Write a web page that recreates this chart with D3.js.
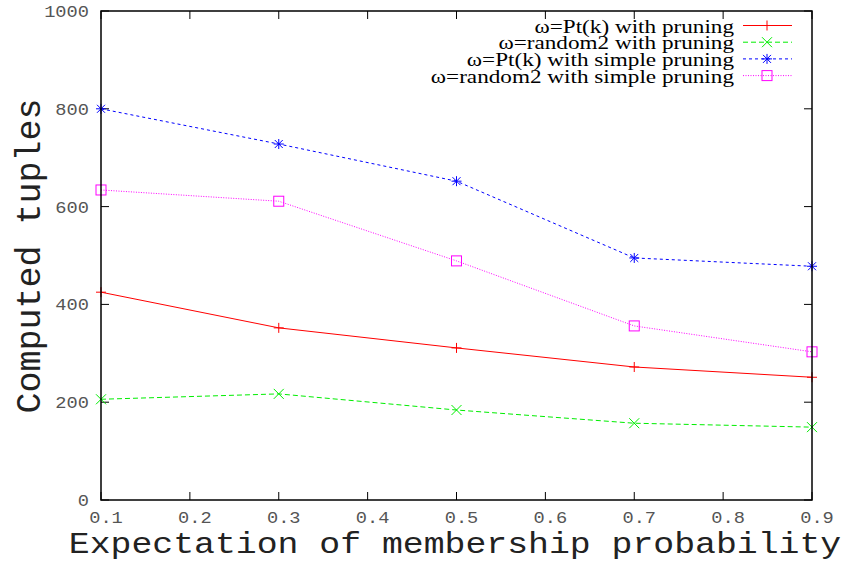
<!DOCTYPE html>
<html>
<head>
  <meta charset="utf-8">
  <script src="https://d3js.org/d3.v7.min.js"></script>
  <style>
    body { margin: 0; background: #fff; }
    text { font-family: "Liberation Mono", "DejaVu Sans Mono", monospace; }
  </style>
</head>
<body>
<script>
  // data
  var probs = [0.1, 0.3, 0.5, 0.7, 0.9];
  var ptPruning = [425, 352, 311, 272, 251];
  var randPruning = [206, 217, 184, 157, 149];
  var ptSimple = [800, 728, 652, 495, 478];
  var randSimple = [634, 611, 489, 356, 303];
  var xTicks = [0.1, 0.2, 0.3, 0.4, 0.5, 0.6, 0.7, 0.8, 0.9];
  var yTicks = [0, 200, 400, 600, 800, 1000];

  var seriesList = [
    { name: "\u03c9=Pt(k) with pruning", values: ptPruning, color: "#ff0000", dash: null, mark: "plus" },
    { name: "\u03c9=random2 with pruning", values: randPruning, color: "#00ee00", dash: "5,3", mark: "cross" },
    { name: "\u03c9=Pt(k) with simple pruning", values: ptSimple, color: "#0000ff", dash: "3,3", mark: "star" },
    { name: "\u03c9=random2 with simple pruning", values: randSimple, color: "#ff00ff", dash: "1,1.5", mark: "box" }
  ];

  var W = 850, H = 566;
  var pLeft = 101, pRight = 812, pTop = 11, pBottom = 500;

  var svg = d3.select("body").append("svg")
      .attr("width", W).attr("height", H);

  var x = d3.scaleLinear().domain([0.1, 0.9]).range([pLeft, pRight]);
  var y = d3.scaleLinear().domain([0, 1000]).range([pBottom, pTop]);

  // ticks on all four sides, pointing inward
  var tk = 8;
  var g = svg.append("g").attr("stroke", "#000").attr("stroke-width", 1);
  xTicks.forEach(function (v) {
    g.append("line").attr("x1", x(v)).attr("x2", x(v)).attr("y1", pBottom).attr("y2", pBottom - tk);
    g.append("line").attr("x1", x(v)).attr("x2", x(v)).attr("y1", pTop).attr("y2", pTop + tk);
  });
  yTicks.forEach(function (v) {
    g.append("line").attr("x1", pLeft).attr("x2", pLeft + tk).attr("y1", y(v)).attr("y2", y(v));
    g.append("line").attr("x1", pRight).attr("x2", pRight - tk).attr("y1", y(v)).attr("y2", y(v));
  });

  // tick labels (gnuplot courier is a bit wider than Liberation Mono)
  svg.selectAll(".xl").data(xTicks).enter().append("text")
      .attr("transform", function (d) { return "translate(" + (x(d) + 5) + "," + (pBottom + 23) + ") scale(1.1,1)"; })
      .attr("text-anchor", "middle")
      .attr("font-size", 17)
      .attr("fill", "#555")
      .text(function (d) { return d3.format(".1f")(d); });

  svg.selectAll(".yl").data(yTicks).enter().append("text")
      .attr("transform", function (d) { return "translate(89," + (y(d) + 6) + ") scale(1.1,1)"; })
      .attr("text-anchor", "end")
      .attr("font-size", 17)
      .attr("fill", "#555")
      .text(function (d) { return d; });

  // axis titles
  svg.append("text")
      .attr("transform", "translate(455,553) scale(1.2,1)")
      .attr("text-anchor", "middle")
      .attr("font-size", 29)
      .attr("fill", "#222")
      .text("Expectation of membership probability");

  svg.append("text")
      .attr("transform", "translate(40,256) rotate(-90)")
      .attr("text-anchor", "middle")
      .attr("font-size", 35)
      .attr("fill", "#222")
      .text("Computed tuples");

  function drawMark(sel, kind, cx, cy, color) {
    var s = 5;
    var m = sel.append("g").attr("stroke", color).attr("stroke-width", 1).attr("fill", "none");
    if (kind === "plus" || kind === "star") {
      m.append("line").attr("x1", cx - s).attr("x2", cx + s).attr("y1", cy).attr("y2", cy);
      m.append("line").attr("x1", cx).attr("x2", cx).attr("y1", cy - s).attr("y2", cy + s);
    }
    if (kind === "cross" || kind === "star") {
      var c = kind === "star" ? 4 : 5;
      m.append("line").attr("x1", cx - c).attr("x2", cx + c).attr("y1", cy - c).attr("y2", cy + c);
      m.append("line").attr("x1", cx - c).attr("x2", cx + c).attr("y1", cy + c).attr("y2", cy - c);
    }
    if (kind === "box") {
      m.append("rect").attr("x", cx - 5).attr("y", cy - 5).attr("width", 10).attr("height", 10);
    }
  }

  var line = d3.line()
      .x(function (d, i) { return x(probs[i]); })
      .y(function (d) { return y(d); });

  seriesList.forEach(function (s, k) {
    svg.append("path")
        .datum(s.values)
        .attr("d", line)
        .attr("fill", "none")
        .attr("stroke", s.color)
        .attr("stroke-width", 1)
        .attr("stroke-dasharray", s.dash);
    s.values.forEach(function (v, i) {
      drawMark(svg, s.mark, x(probs[i]), y(v), s.color);
    });

    // legend entry
    var ly = 25.5 + k * 16.7;
    svg.append("text")
        .attr("transform", "translate(734," + (ly + 7) + ") scale(1.22,1)")
        .attr("text-anchor", "end")
        .style("font-family", "'Liberation Serif', 'DejaVu Serif', serif")
        .attr("font-size", 19)
        .attr("fill", "#000")
        .text(s.name);
    svg.append("line")
        .attr("x1", 743).attr("x2", 792).attr("y1", ly).attr("y2", ly)
        .attr("stroke", s.color).attr("stroke-width", 1)
        .attr("stroke-dasharray", s.dash);
    drawMark(svg, s.mark, 767, ly, s.color);
  });

  // frame
  svg.append("rect")
      .attr("x", pLeft).attr("y", pTop)
      .attr("width", pRight - pLeft).attr("height", pBottom - pTop)
      .attr("fill", "none").attr("stroke", "#000").attr("stroke-width", 1.5);
</script>
</body>
</html>
